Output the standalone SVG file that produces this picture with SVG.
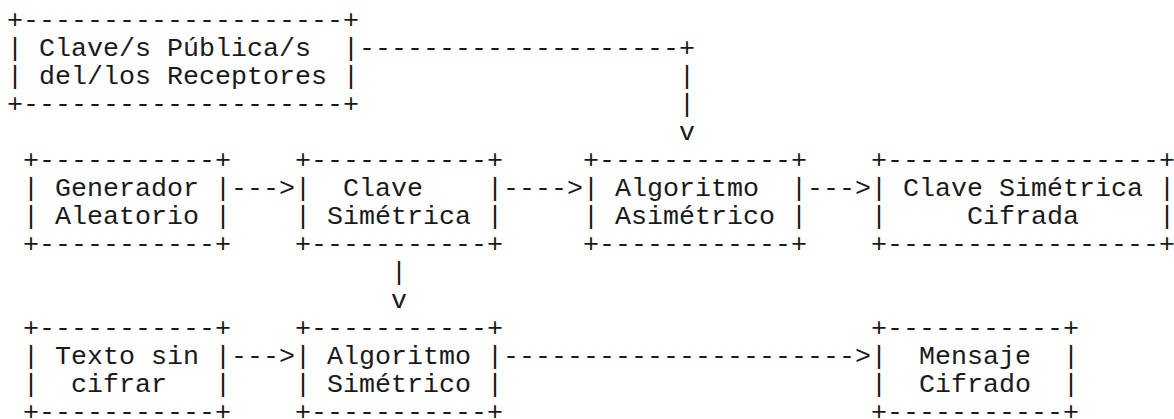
<svg xmlns="http://www.w3.org/2000/svg" width="1174" height="419" viewBox="0 0 1174 419" xml:space="preserve">
<style>
text { font-family: "Liberation Mono", "Courier New", monospace; font-size: 26.67px; fill: #1a1a1a; white-space: pre; }
</style>
<rect width="1174" height="419" fill="#fff"/>
<g id="claves-publicas">
<text x="7" y="28.4">+--------------------+</text>
<text x="7" y="56.4">| Clave/s Pública/s  |</text>
<text x="7" y="84.4">| del/los Receptores |</text>
<text x="7" y="112.4">+--------------------+</text>
</g>
<g id="generador-aleatorio">
<text x="23" y="168.4">+-----------+</text>
<text x="23" y="196.4">| Generador |</text>
<text x="23" y="224.4">| Aleatorio |</text>
<text x="23" y="252.4">+-----------+</text>
</g>
<g id="clave-simetrica">
<text x="295" y="168.4">+-----------+</text>
<text x="295" y="196.4">|  Clave    |</text>
<text x="295" y="224.4">| Simétrica |</text>
<text x="295" y="252.4">+-----------+</text>
</g>
<g id="algoritmo-asimetrico">
<text x="583" y="168.4">+------------+</text>
<text x="583" y="196.4">| Algoritmo  |</text>
<text x="583" y="224.4">| Asimétrico |</text>
<text x="583" y="252.4">+------------+</text>
</g>
<g id="clave-simetrica-cifrada">
<text x="871" y="168.4">+-----------------+</text>
<text x="871" y="196.4">| Clave Simétrica |</text>
<text x="871" y="224.4">|     Cifrada     |</text>
<text x="871" y="252.4">+-----------------+</text>
</g>
<g id="texto-sin-cifrar">
<text x="23" y="336.4">+-----------+</text>
<text x="23" y="364.4">| Texto sin |</text>
<text x="23" y="392.4">|  cifrar   |</text>
<text x="23" y="420.4">+-----------+</text>
</g>
<g id="algoritmo-simetrico">
<text x="295" y="336.4">+-----------+</text>
<text x="295" y="364.4">| Algoritmo |</text>
<text x="295" y="392.4">| Simétrico |</text>
<text x="295" y="420.4">+-----------+</text>
</g>
<g id="mensaje-cifrado">
<text x="871" y="336.4">+-----------+</text>
<text x="871" y="364.4">|  Mensaje  |</text>
<text x="871" y="392.4">|  Cifrado  |</text>
<text x="871" y="420.4">+-----------+</text>
</g>
<g id="connectors">
<text x="359" y="56.4">--------------------+</text>
<text x="679" y="84.4">|</text>
<text x="679" y="112.4">|</text>
<text x="679" y="140.4">v</text>
<text x="231" y="196.4">---&gt;</text>
<text x="503" y="196.4">----&gt;</text>
<text x="807" y="196.4">---&gt;</text>
<text x="391" y="280.4">|</text>
<text x="391" y="308.4">v</text>
<text x="231" y="364.4">---&gt;</text>
<text x="503" y="364.4">----------------------&gt;</text>
</g>
</svg>
